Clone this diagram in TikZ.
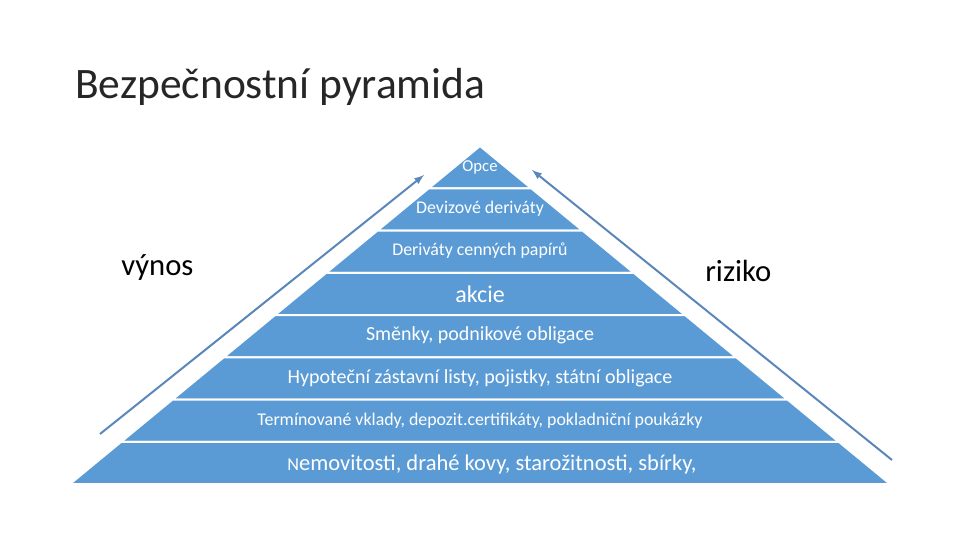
\documentclass[tikz,border=0pt]{standalone}
\usepackage{fontspec}
\setmainfont{Carlito}
\usetikzlibrary{positioning}

\definecolor{pyrblue}{HTML}{5B9BD5}
\definecolor{trendblue}{HTML}{5A86BA}

\tikzset{
  layer/.style={fill=pyrblue, draw=white, line width=1.5pt},
  layertext/.style={text=white, inner sep=0pt},
  sidetext/.style={font=\fontsize{23}{23}\selectfont, inner sep=0pt, anchor=base west},
  trend/.style={draw=trendblue, line width=1.5pt, -latex}
}

\begin{document}
\begin{tikzpicture}[x=0.75pt, y=-0.75pt]
  \useasboundingbox (0,0) rectangle (960,540);

  \node[anchor=base west, inner sep=0pt, font=\fontsize{32.6}{32.6}\selectfont, text=black!85]
    (title) at (75,98) {Bezpečnostní pyramida};

  % pyramid layers
  \foreach \i in {0,...,7}{
    \pgfmathsetmacro{\ytop}{146+42.25*\i}
    \pgfmathsetmacro{\ybot}{\ytop+42.25}
    \pgfmathsetmacro{\wtop}{(\ytop-146)*1.213}
    \pgfmathsetmacro{\wbot}{(\ybot-146)*1.213}
    \draw[layer] (480-\wtop,\ytop) -- (480+\wtop,\ytop)
      -- (480+\wbot,\ybot) -- (480-\wbot,\ybot) -- cycle;
  }

  \node[layertext, font=\fontsize{12.5}{12.5}\selectfont] (opce) at (480,167) {Opce};
  \node[layertext, font=\fontsize{13.4}{13.4}\selectfont] (deviz) at (480,209) {Devizové deriváty};
  \node[layertext, font=\fontsize{13.4}{13.4}\selectfont] (cenne) at (480,251) {Deriváty cenných papírů};
  \node[layertext, font=\fontsize{18}{18}\selectfont] (akcie) at (480,294) {akcie};
  \node[layertext, font=\fontsize{15}{15}\selectfont] (smenky) at (480,335) {Směnky, podnikové obligace};
  \node[layertext, font=\fontsize{15}{15}\selectfont] (hypo) at (480,378) {Hypoteční zástavní listy, pojistky, státní obligace};
  \node[layertext, font=\fontsize{13.4}{13.4}\selectfont] (termin) at (480,421) {Termínované vklady, depozit.certifikáty, pokladniční poukázky};
  \node[layertext, font=\fontsize{16.9}{16.9}\selectfont] (nemo) at (492,464)
    {{\fontsize{13.6}{13.6}\selectfont N}emovitosti, drahé kovy, starožitnosti, sbírky,};

  % side arrows
  \coordinate (vynosfrom) at (100,434);
  \coordinate (vynosto) at (424,175);
  \coordinate (rizikofrom) at (892,460);
  \coordinate (rizikoto) at (532,170);
  \draw[trend] (vynosfrom) -- (vynosto);
  \draw[trend] (rizikofrom) -- (rizikoto);

  \node[sidetext] (vynos) at (121,275) {výnos};
  \node[sidetext] (riziko) at (705,281) {riziko};
\end{tikzpicture}
\end{document}
